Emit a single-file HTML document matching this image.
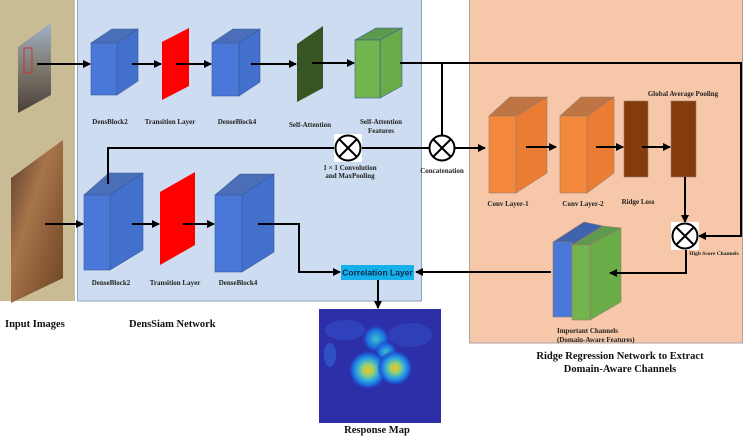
<!DOCTYPE html>
<html><head><meta charset="utf-8"><style>
html,body{margin:0;padding:0;background:#fff;}
svg{display:block;font-family:"Liberation Serif",serif;font-weight:bold;}
</style></head><body>
<svg width="748" height="436" viewBox="0 0 748 436" xmlns="http://www.w3.org/2000/svg">
<defs>
<marker id="ah" markerWidth="8" markerHeight="8" refX="7" refY="4" orient="auto" markerUnits="userSpaceOnUse"><path d="M0,0 L8,4 L0,8 z" fill="#000"/></marker>
<linearGradient id="img1" x1="0" y1="0" x2="0" y2="1"><stop offset="0" stop-color="#9fb2c8"/><stop offset="0.5" stop-color="#7d7a6e"/><stop offset="1" stop-color="#4a3f3a"/></linearGradient>
<linearGradient id="img2" x1="0" y1="0" x2="1" y2="1"><stop offset="0" stop-color="#5a3a2a"/><stop offset="0.4" stop-color="#a7754a"/><stop offset="0.7" stop-color="#8a5a35"/><stop offset="1" stop-color="#6b4428"/></linearGradient>
<radialGradient id="h1"><stop offset="0" stop-color="#f7c21a"/><stop offset="0.3" stop-color="#8ed07a"/><stop offset="0.55" stop-color="#2fa8e0"/><stop offset="0.8" stop-color="#1a62d8"/><stop offset="1" stop-color="#2a2ab0" stop-opacity="0"/></radialGradient>
<radialGradient id="h2"><stop offset="0" stop-color="#3fc0d0"/><stop offset="0.6" stop-color="#1a70e0"/><stop offset="1" stop-color="#2a2ab0" stop-opacity="0"/></radialGradient>
</defs>
<rect x="0" y="0" width="75" height="301" fill="#c9bb93"/>
<rect x="77.5" y="-1" width="344" height="302" fill="#cddcf1" stroke="#8ea5c8"/>
<rect x="469.5" y="-1" width="273" height="344" fill="#f6c8a9" stroke="#b0a0a0"/>
<polygon points="18,47 51,23 51,95 18,113" fill="url(#img1)"/>
<rect x="24" y="48" width="8" height="25" fill="none" stroke="#e02020" stroke-width="0.8"/>
<polygon points="11,178 63,140 63,278 11,303" fill="url(#img2)"/>
<g stroke="#3a5a9a" stroke-width="0.6">
<polygon points="91,43 112,29 138,29 117,43" fill="#4a6fb8"/><polygon points="117,43 138,29 138,81 117,95" fill="#4270cc"/><rect x="91" y="43" width="26" height="52" fill="#4a78d8"/>
<polygon points="212,43 233,29 260,29 239,43" fill="#4a6fb8"/><polygon points="239,43 260,29 260,82 239,96" fill="#4270cc"/><rect x="212" y="43" width="27" height="53" fill="#4a78d8"/>
<polygon points="355,40 376,28 402,28 381,40" fill="#5e9a4e"/><polygon points="380,40 402,28 402,86 380,98" fill="#6aac48"/><rect x="355" y="40" width="25" height="58" fill="#72b44e"/>
<polygon points="84,195 109,173 143,173 110,195" fill="#4a6fb8"/><polygon points="110,195 143,173 143,250 110,270" fill="#4270cc"/><rect x="84" y="195" width="26" height="75" fill="#4a78d8"/>
<polygon points="215,195 240,174 274,174 242,195" fill="#4a6fb8"/><polygon points="242,195 274,174 274,252 242,272" fill="#4270cc"/><rect x="215" y="195" width="27" height="77" fill="#4a78d8"/>
</g>
<polygon points="162,42 189,28 189,86 162,100" fill="#ff0000"/>
<polygon points="297,44 323,26 323,88 297,102" fill="#375623"/>
<polygon points="160,192 195,172 195,245 160,265" fill="#ff0000"/>
<g stroke="#9a7a6a" stroke-width="0.6">
<polygon points="489,116 510,97 547,97 516,116" fill="#bf7443"/><polygon points="516,116 547,97 547,173 516,193" fill="#ea7c34"/><rect x="489" y="116" width="27" height="77" fill="#f4883a"/>
<polygon points="560,116 581,97 614,97 587,116" fill="#bf7443"/><polygon points="587,116 614,97 614,173 587,193" fill="#ea7c34"/><rect x="560" y="116" width="27" height="77" fill="#f4883a"/>
<rect x="624" y="101" width="24" height="76" fill="#843c0c"/><rect x="671" y="101" width="25" height="76" fill="#843c0c"/>
<polygon points="553,242 584,222 603,226 572,245" fill="#3f63ad"/><polygon points="572,245 603,226 621,228 590,245" fill="#5e9a4e"/>
<polygon points="590,245 621,228 621,302 590,320" fill="#6aac48"/>
<rect x="553" y="242" width="19" height="75" fill="#4a78d8"/><rect x="572" y="245" width="18" height="75" fill="#72b44e"/>
</g>
<g stroke="#000" stroke-width="2" fill="none">
<line x1="37" y1="64" x2="90" y2="64" marker-end="url(#ah)"/>
<line x1="132" y1="64" x2="161" y2="64" marker-end="url(#ah)"/>
<line x1="176" y1="64" x2="211" y2="64" marker-end="url(#ah)"/>
<line x1="251" y1="64" x2="296" y2="64" marker-end="url(#ah)"/>
<line x1="312" y1="63" x2="354" y2="63" marker-end="url(#ah)"/>
<polyline points="400,63 741,63 741,236 699,236" marker-end="url(#ah)"/>
<line x1="442" y1="63" x2="442" y2="135"/>
<polyline points="108,184 108,148 335,148"/>
<line x1="361" y1="148" x2="429" y2="148"/>
<line x1="455" y1="148" x2="485" y2="148" marker-end="url(#ah)"/>
<line x1="45" y1="224" x2="83" y2="224" marker-end="url(#ah)"/>
<line x1="132" y1="224" x2="159" y2="224" marker-end="url(#ah)"/>
<line x1="183" y1="224" x2="214" y2="224" marker-end="url(#ah)"/>
<polyline points="258,224 299,224 299,272 340,272" marker-end="url(#ah)"/>
<line x1="551" y1="272" x2="416" y2="272" marker-end="url(#ah)"/>
<line x1="378" y1="280" x2="378" y2="308" marker-end="url(#ah)"/>
<line x1="526" y1="147" x2="556" y2="147" marker-end="url(#ah)"/>
<line x1="596" y1="147" x2="623" y2="147" marker-end="url(#ah)"/>
<line x1="642" y1="147" x2="670" y2="147" marker-end="url(#ah)"/>
<line x1="685" y1="177" x2="685" y2="222" marker-end="url(#ah)"/>
<polyline points="686,250 686,273 610,273" marker-end="url(#ah)"/>
</g>
<g stroke="#000" stroke-width="2" fill="#fff">
<rect x="334" y="134" width="28" height="28" fill="#fff" stroke="none"/>
<circle cx="348" cy="148" r="12.5"/><path d="M339,139 L357,157 M357,139 L339,157"/>
<circle cx="442" cy="148" r="12.5"/><path d="M433,139 L451,157 M451,139 L433,157"/>
<rect x="671" y="222" width="28" height="28" fill="#fff" stroke="none"/>
<circle cx="685" cy="236" r="12.5"/><path d="M676,227 L694,245 M694,227 L676,245"/>
</g>
<rect x="341" y="265" width="73" height="15" fill="#16b0ea"/>
<text x="377.5" y="275.5" font-family="Liberation Sans,sans-serif" font-size="8.5" font-weight="bold" text-anchor="middle" fill="#0a2a4a">Correlation Layer</text>
<rect x="319" y="309" width="122" height="114" fill="#2d2fa8"/>
<ellipse cx="345" cy="330" rx="20" ry="10" fill="#3050c8" opacity="0.6"/>
<ellipse cx="410" cy="335" rx="22" ry="12" fill="#3050c8" opacity="0.5"/>
<ellipse cx="330" cy="355" rx="6" ry="12" fill="#2f6ad8" opacity="0.6"/>
<circle cx="376" cy="339" r="15" fill="url(#h2)"/>
<circle cx="386" cy="352" r="12" fill="url(#h2)"/>
<circle cx="368" cy="370" r="20" fill="url(#h1)"/>
<circle cx="395" cy="368" r="18" fill="url(#h1)"/>
<g font-size="7" text-anchor="middle" fill="#222">
<text x="110" y="124">DensBlock2</text>
<text x="170" y="124">Transition Layer</text>
<text x="237" y="124">DenseBlock4</text>
<text x="310" y="127">Self-Attention</text>
<text x="381" y="124">Self-Attention</text>
<text x="381" y="133">Features</text>
<text x="350" y="170">1 × 1 Convolution</text>
<text x="350" y="178">and MaxPooling</text>
<text x="442" y="173">Concatenation</text>
<text x="111" y="285">DenseBlock2</text>
<text x="175" y="285">Transition Layer</text>
<text x="238" y="285">DenseBlock4</text>
<text x="508" y="206">Conv Layer-1</text>
<text x="583" y="206">Conv Layer-2</text>
<text x="638" y="204">Ridge Loss</text>
<text x="683" y="96">Global Average Pooling</text>
<text x="714" y="255" font-size="5.5">High Score Channels</text>
</g>
<g font-size="7" fill="#222">
<text x="557" y="333">Important Channels</text>
<text x="557" y="342">(Domain-Aware Features)</text>
</g>
<g font-size="10.5" fill="#111">
<text x="5" y="327">Input Images</text>
<text x="129" y="327">DensSiam Network</text>
<text x="377" y="433" text-anchor="middle">Response Map</text>
<text x="620" y="359" text-anchor="middle">Ridge Regression Network to Extract</text>
<text x="620" y="372" text-anchor="middle">Domain-Aware Channels</text>
</g>
</svg>
</body></html>
